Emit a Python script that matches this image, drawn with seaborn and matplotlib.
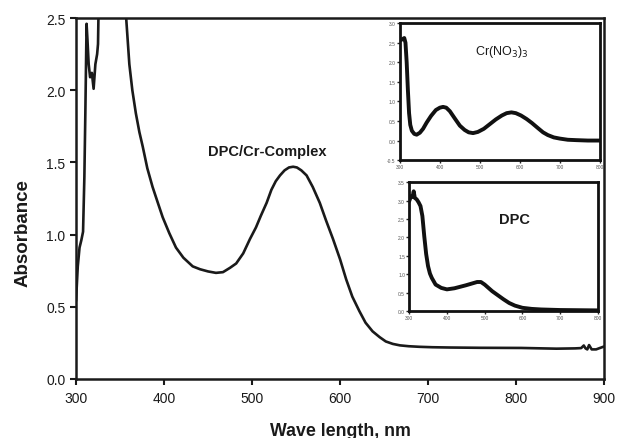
import numpy as np
import pandas as pd
import matplotlib
matplotlib.use("Agg")
import matplotlib.pyplot as plt
import seaborn as sns

# datos
# DPC/Cr complex (curva principal)
wl_complex = [300, 302, 304, 306, 308, 309.5, 310.6, 312, 313, 314.4, 316, 318, 320, 322, 324, 325, 326,
              335, 350, 357, 360.6, 364, 368, 372, 375.8, 381, 387, 393, 398.5, 406, 413.6, 422,
              432.6, 441, 450, 459, 467, 475, 482, 490, 497.7, 504.5, 510, 516.6, 522, 527, 531.8,
              537, 542, 546.7, 551, 556, 562, 569, 577, 584, 592, 600, 607, 614, 622, 629, 637,
              645, 652, 660, 668, 678, 690, 705, 725, 760, 806, 846, 867, 874, 877, 879, 881, 883, 886,
              891, 895, 900]
abs_complex = [0.54, 0.78, 0.91, 0.96, 1.02, 1.40, 1.84, 2.46, 2.35, 2.18, 2.09, 2.12, 2.01, 2.18, 2.25, 2.32, 2.7,
               3.3, 3.3, 2.50, 2.18, 2.0, 1.84, 1.71, 1.61, 1.46, 1.33, 1.22, 1.12, 1.01, 0.91, 0.84,
               0.78, 0.76, 0.745, 0.735, 0.74, 0.77, 0.80, 0.87, 0.97, 1.05, 1.13, 1.22, 1.31, 1.37, 1.41,
               1.445, 1.465, 1.47, 1.465, 1.445, 1.41, 1.33, 1.22, 1.10, 0.97, 0.83, 0.69, 0.57, 0.47, 0.39, 0.33,
               0.29, 0.26, 0.243, 0.233, 0.227, 0.223, 0.22, 0.218, 0.216, 0.215, 0.21, 0.212, 0.214, 0.232, 0.212, 0.205, 0.235, 0.205,
               0.205, 0.214, 0.225]

# Cr(NO3)3
wl_cr = [300, 305, 311, 314, 317, 320, 323, 326, 330, 336, 342, 350, 358, 367, 378, 390, 400, 408, 416,
         425, 437, 450, 462, 472, 483, 495, 510, 525, 540, 555, 567, 579, 590, 603, 617, 630, 645,
         658, 670, 685, 700, 720, 742, 770, 800]
abs_cr = [2.56, 2.58, 2.62, 2.5, 2.0, 1.3, 0.7, 0.4, 0.25, 0.17, 0.15, 0.2, 0.3, 0.46, 0.63, 0.78, 0.84, 0.86, 0.84,
          0.75, 0.57, 0.38, 0.27, 0.21, 0.19, 0.22, 0.30, 0.42, 0.54, 0.64, 0.70, 0.72, 0.70, 0.64, 0.55, 0.45, 0.32,
          0.21, 0.14, 0.08, 0.05, 0.02, 0.01, 0.0, 0.0]

# DPC
wl_dpc = [300, 305, 309, 312, 315, 320, 325, 330, 335, 340, 345, 350, 355, 360, 370, 385, 400, 420, 450,
          470, 480, 490, 500, 510, 520, 535, 550, 565, 580, 600, 625, 650, 700, 800]
abs_dpc = [2.98, 3.12, 3.1, 3.25, 3.07, 3.03, 2.95, 2.85, 2.58, 2.03, 1.55, 1.22, 1.02, 0.90, 0.72, 0.63, 0.59, 0.62, 0.70,
           0.76, 0.79, 0.79, 0.72, 0.63, 0.54, 0.43, 0.32, 0.22, 0.15, 0.09, 0.06, 0.045, 0.03, 0.02]

df_complex = pd.DataFrame({"wl": wl_complex, "abs": abs_complex})
df_cr = pd.DataFrame({"wl": wl_cr, "abs": abs_cr})
df_dpc = pd.DataFrame({"wl": wl_dpc, "abs": abs_dpc})

sns.set_style("ticks")
plt.rcParams["font.family"] = ["Liberation Sans", "DejaVu Sans"]
plt.rcParams["xtick.direction"] = "out"
plt.rcParams["ytick.direction"] = "out"

fig = plt.figure(figsize=(6.19, 4.39), dpi=100)

# ==========================
# grafico principal
# ==========================
ax = fig.add_axes([0.1228, 0.1344, 0.853, 0.8223])
sns.lineplot(data=df_complex, x="wl", y="abs", ax=ax, color="#1a1a1a", linewidth=1.9)
ax.set_xlim(300, 900)
ax.set_ylim(0, 2.5)
ax.set_xticks([300, 400, 500, 600, 700, 800, 900])
ax.set_yticks([0.0, 0.5, 1.0, 1.5, 2.0, 2.5])
ax.set_yticklabels(["0.0", "0.5", "1.0", "1.5", "2.0", "2.5"])
ax.tick_params(labelsize=10, width=1.5, length=4, color="#1a1a1a", labelcolor="#1a1a1a")
ax.tick_params(axis="x", pad=5)
for s in ax.spines.values():
    s.set_linewidth(1.8)
    s.set_color("#1a1a1a")
    s.set_visible(True)
ax.set_xlabel("Wave length, nm", fontsize=12.8, fontweight="bold", color="#1a1a1a")
ax.set_ylabel("Absorbance", fontsize=13.5, fontweight="bold", color="#1a1a1a")
ax.xaxis.set_label_coords(0.5, -0.118)
ax.yaxis.set_label_coords(-0.084, 0.407)
ax.text(517, 1.58, "DPC/Cr-Complex", fontsize=10.5, fontweight="bold", ha="center", va="center", color="#1a1a1a")


def inset(rect, df, ylim, yticks, label, lx, ly, bold, fs):
    a = fig.add_axes(rect)
    sns.lineplot(data=df, x="wl", y="abs", ax=a, color="#111111", linewidth=2.8)
    a.set_xlim(300, 800)
    a.set_ylim(*ylim)
    a.set_xticks([300, 400, 500, 600, 700, 800])
    a.set_yticks(yticks)
    a.set_yticklabels([f"{v:.1f}" for v in yticks])
    a.tick_params(labelsize=3.5, width=1.0, length=2, pad=1, labelcolor="#555555")
    a.set_xlabel("")
    a.set_ylabel("")
    for s in a.spines.values():
        s.set_linewidth(2.0)
        s.set_color("#111111")
    a.text(lx, ly, label, fontsize=fs, fontweight="bold" if bold else "normal",
           ha="center", va="center", color="#1a1a1a")
    return a


inset([0.646, 0.633, 0.323, 0.312], df_cr, (-0.5, 3.0), [-0.5, 0, 0.5, 1.0, 1.5, 2.0, 2.5, 3.0],
      "Cr(NO$_3$)$_3$", 555, 2.3, False, 9)
inset([0.661, 0.289, 0.305, 0.294], df_dpc, (0, 3.5), [0, 0.5, 1.0, 1.5, 2.0, 2.5, 3.0, 3.5],
      "DPC", 580, 2.5, True, 10.5)

plt.savefig("out.png", dpi=100)
plt.close()
